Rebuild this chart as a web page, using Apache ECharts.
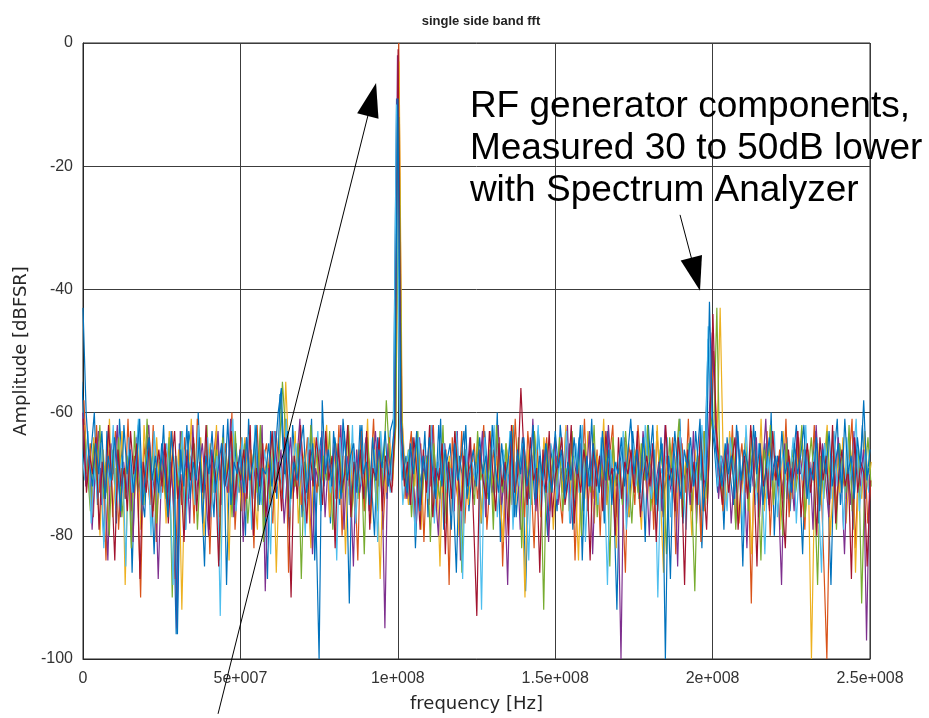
<!DOCTYPE html>
<html>
<head>
<meta charset="utf-8">
<title>single side band fft</title>
<script src="https://cdn.jsdelivr.net/npm/echarts@6/dist/echarts.min.js"></script>
<style>
  html, body { margin: 0; padding: 0; background: #fff; }
  #chart { width: 929px; height: 718px; }
</style>
</head>
<body>
<div id="chart"></div>
<script>
// fft bins, 1 MHz apart, 0 .. 250 MHz (251 bins per trace)
const binWidthHz = 1e6;
// each capture is slightly detuned from the others
const binOffsetHz = [-0.4e6, 0.3e6, 0.4e6, -0.1e6, 0.35e6, -0.4e6, 0.1e6, 0];

const xTickLabels = ['0', '5e+007', '1e+008', '1.5e+008', '2e+008', '2.5e+008'];
const yTicks = [-100, -80, -60, -40, -20, 0];

const traceColors = ['#0072BD', '#D95319', '#EDB120', '#7E2F8E', '#77AC30', '#4DBEEE', '#A2142F', '#0072BD'];

// amplitude [dBFSR] per bin, one array per captured trace (25 bins per row)
const trace1 = [
  -55, -64, -71, -66, -60, -75, -69, -81, -63, -72, -67, -78, -61, -70, -74, -65, -86, -68, -62, -73, -77, -64, -70, -83, -66,
  -71, -62, -76, -68, -73, -96, -65, -70, -79, -63, -67, -74, -60, -72, -85, -66, -69, -77, -64, -71, -62, -88, -68, -75, -65,
  -73, -67, -80, -61, -70, -64, -76, -69, -72, -87, -63, -68, -74, -57, -66, -71, -79, -62, -70, -65, -77, -68, -73, -61, -84,
  -69, -64, -72, -66, -78, -63, -70, -75, -61, -68, -91, -65, -73, -69, -62, -76, -67, -71, -80, -64, -70, -66, -74, -63, -61,
  -9, -62, -71, -67, -75, -64, -82, -69, -72, -63, -77, -66, -70, -74, -61, -79, -68, -65, -73, -86, -67, -71, -62, -76, -69,
  -72, -65, -78, -63, -70, -67, -74, -60, -81, -68, -66, -73, -62, -77, -70, -64, -89, -71, -67, -75, -63, -69, -72, -80, -66,
  -70, -76, -62, -68, -73, -65, -79, -71, -64, -84, -67, -72, -61, -75, -69, -66, -78, -63, -70, -74, -92, -68, -65, -71, -77,
  -63, -69, -74, -66, -81, -62, -71, -68, -76, -64, -73, -70, -87, -65, -72, -61, -78, -67, -70, -75, -63, -69, -82, -66, -48,
  -61, -66, -73, -67, -79, -64, -70, -75, -62, -68, -85, -66, -72, -69, -63, -77, -71, -65, -74, -60, -80, -67, -70, -73, -64,
  -76, -68, -62, -71, -83, -66, -74, -69, -63, -78, -70, -65, -72, -88, -67, -61, -75, -69, -73, -64, -79, -66, -71, -62, -74,
  -69
];
const trace2 = [
  -58, -70, -65, -77, -62, -73, -68, -84, -66, -71, -63, -79, -69, -74, -61, -76, -67, -72, -90, -65, -70, -75, -62, -81, -68,
  -73, -66, -70, -63, -87, -69, -75, -64, -72, -67, -78, -61, -70, -74, -66, -83, -68, -63, -76, -71, -65, -73, -60, -79, -69,
  -64, -76, -70, -67, -82, -62, -73, -68, -65, -71, -78, -63, -69, -74, -61, -86, -67, -72, -66, -75, -70, -64, -80, -68, -73,
  -66, -71, -63, -77, -69, -74, -62, -80, -67, -72, -65, -70, -84, -63, -76, -68, -71, -61, -75, -66, -79, -69, -64, -72, -60,
  0, -60, -74, -68, -63, -77, -70, -65, -81, -67, -72, -62, -76, -69, -73, -66, -88, -64, -71, -75, -63, -78, -68, -70, -65,
  -74, -69, -62, -79, -71, -66, -73, -64, -85, -70, -67, -75, -61, -72, -68, -77, -63, -70, -82, -66, -73, -69, -64, -76, -71,
  -67, -73, -78, -63, -70, -65, -84, -68, -72, -61, -76, -69, -74, -66, -80, -64, -71, -67, -62, -77, -70, -73, -86, -65, -69,
  -75, -62, -70, -68, -74, -66, -79, -63, -71, -77, -67, -72, -64, -83, -69, -65, -73, -61, -76, -70, -68, -81, -63, -74, -62,
  -50, -63, -69, -76, -66, -72, -62, -78, -70, -65, -73, -68, -91, -64, -71, -67, -75, -63, -80, -69, -72, -66, -74, -61, -77,
  -68, -73, -64, -70, -79, -66, -72, -62, -75, -69, -84, -100, -71, -63, -76, -65, -70, -74, -68, -61, -82, -69, -73, -66, -78,
  -71
];
const trace3 = [
  -62, -68, -75, -64, -71, -80, -66, -73, -61, -77, -69, -72, -63, -88, -67, -70, -74, -65, -79, -62, -71, -68, -76, -64, -73,
  -67, -78, -63, -70, -74, -66, -92, -69, -72, -61, -75, -68, -64, -80, -71, -65, -73, -62, -77, -70, -67, -84, -63, -72, -69,
  -76, -64, -71, -66, -73, -79, -62, -70, -68, -75, -65, -86, -69, -72, -55, -67, -74, -63, -78, -70, -66, -71, -82, -64, -69,
  -73, -68, -62, -77, -70, -65, -74, -67, -83, -63, -71, -76, -66, -69, -72, -61, -78, -64, -70, -87, -68, -73, -65, -71, -62,
  -3, -61, -70, -75, -66, -72, -64, -79, -68, -73, -62, -77, -69, -85, -65, -71, -67, -74, -63, -80, -70, -66, -75, -68, -72,
  -64, -78, -69, -71, -63, -76, -67, -73, -81, -65, -70, -62, -75, -68, -72, -90, -66, -74, -63, -69, -77, -64, -71, -67, -79,
  -70, -65, -73, -62, -76, -68, -71, -84, -66, -74, -63, -69, -78, -67, -72, -61, -75, -70, -64, -82, -68, -73, -65, -77, -71,
  -66, -72, -79, -64, -70, -67, -75, -62, -73, -86, -69, -65, -71, -77, -63, -74, -68, -70, -80, -66, -72, -64, -76, -69, -62,
  -62, -64, -43, -68, -75, -63, -70, -66, -78, -72, -64, -69, -83, -67, -73, -61, -76, -70, -65, -74, -68, -79, -63, -71, -67,
  -74, -66, -70, -63, -77, -69, -100, -72, -65, -75, -68, -62, -80, -71, -67, -73, -64, -78, -70, -66, -86, -69, -74, -63, -72,
  -68
];
const trace4 = [
  -60, -72, -66, -79, -69, -63, -75, -71, -84, -65, -70, -62, -77, -68, -73, -66, -81, -64, -71, -76, -67, -62, -74, -69, -87,
  -70, -65, -73, -68, -76, -95, -63, -71, -67, -78, -62, -74, -69, -65, -72, -80, -66, -70, -63, -75, -68, -73, -61, -77, -71,
  -66, -81, -64, -70, -74, -67, -72, -62, -89, -69, -75, -63, -71, -66, -78, -70, -64, -73, -68, -61, -76, -72, -65, -83, -69,
  -72, -63, -77, -68, -70, -65, -74, -62, -79, -67, -71, -85, -66, -73, -69, -64, -76, -70, -63, -72, -68, -95, -65, -71, -62,
  -2, -63, -69, -74, -66, -71, -78, -64, -70, -67, -75, -62, -73, -80, -68, -65, -72, -69, -76, -63, -84, -67, -71, -64, -74,
  -68, -70, -63, -77, -66, -73, -69, -62, -75, -71, -88, -65, -72, -67, -79, -64, -70, -74, -61, -76, -68, -72, -66, -81, -70,
  -64, -75, -69, -72, -62, -78, -67, -71, -65, -74, -70, -63, -83, -68, -73, -66, -76, -62, -70, -69, -72, -100, -64, -77, -67,
  -71, -66, -74, -63, -69, -80, -65, -72, -68, -76, -62, -70, -73, -67, -85, -64, -71, -69, -75, -63, -78, -66, -70, -72, -61,
  -47, -62, -74, -67, -71, -65, -78, -70, -63, -73, -68, -82, -66, -72, -64, -77, -69, -61, -75, -70, -67, -73, -88, -65, -71,
  -69, -76, -63, -70, -66, -74, -68, -79, -62, -72, -65, -71, -77, -67, -73, -64, -70, -83, -68, -75, -63, -69, -72, -66, -97,
  -70
];
const trace5 = [
  -63, -69, -76, -65, -71, -62, -74, -68, -80, -66, -72, -64, -77, -70, -67, -82, -63, -73, -69, -75, -61, -71, -66, -78, -68,
  -70, -74, -64, -90, -67, -72, -63, -76, -69, -71, -65, -79, -68, -73, -62, -75, -70, -66, -84, -64, -71, -67, -77, -63, -72,
  -69, -65, -78, -70, -66, -73, -62, -81, -68, -74, -64, -71, -67, -55, -63, -76, -70, -72, -65, -87, -68, -74, -62, -70, -66,
  -75, -67, -71, -63, -79, -69, -65, -73, -70, -62, -77, -68, -74, -66, -83, -64, -71, -69, -76, -63, -72, -58, -67, -70, -62,
  -12, -64, -72, -66, -77, -69, -63, -75, -70, -67, -81, -65, -71, -74, -62, -78, -68, -73, -64, -70, -86, -66, -72, -69, -75,
  -63, -71, -68, -74, -66, -79, -62, -70, -73, -65, -77, -69, -72, -64, -82, -67, -70, -75, -63, -71, -68, -92, -65, -73, -66,
  -72, -64, -76, -69, -71, -63, -74, -67, -80, -65, -70, -73, -62, -77, -68, -71, -66, -85, -64, -72, -69, -75, -63, -70, -78,
  -67, -73, -65, -71, -62, -76, -69, -74, -66, -70, -83, -64, -72, -68, -61, -77, -70, -65, -73, -89, -67, -71, -63, -75, -61,
  -63, -43, -70, -74, -67, -72, -64, -79, -68, -71, -65, -76, -63, -73, -69, -84, -66, -70, -62, -75, -68, -72, -80, -65, -71,
  -66, -73, -69, -62, -77, -70, -64, -72, -88, -67, -74, -63, -71, -68, -79, -65, -70, -73, -62, -76, -69, -66, -91, -71, -64,
  -72
];
const trace6 = [
  -66, -71, -63, -78, -69, -74, -65, -82, -68, -72, -62, -76, -70, -67, -85, -64, -73, -69, -61, -77, -71, -66, -80, -63, -70,
  -74, -68, -65, -72, -88, -67, -71, -63, -79, -70, -66, -75, -62, -73, -69, -64, -77, -71, -67, -93, -65, -72, -68, -61, -76,
  -70, -64, -73, -67, -79, -62, -71, -75, -66, -70, -83, -63, -72, -68, -74, -61, -77, -69, -65, -72, -67, -80, -64, -71, -69,
  -63, -76, -70, -66, -73, -68, -84, -64, -71, -67, -75, -62, -78, -69, -72, -65, -70, -74, -66, -81, -63, -71, -68, -73, -64,
  -10, -63, -75, -69, -66, -72, -80, -64, -70, -67, -74, -62, -78, -68, -71, -65, -73, -69, -76, -63, -70, -87, -66, -72, -68,
  -71, -67, -92, -64, -73, -69, -62, -77, -70, -66, -74, -63, -79, -68, -72, -65, -71, -84, -67, -70, -62, -76, -69, -73, -65,
  -68, -74, -66, -71, -63, -78, -70, -65, -73, -62, -81, -69, -72, -67, -75, -64, -70, -88, -66, -71, -68, -74, -63, -79, -70,
  -65, -72, -68, -76, -62, -70, -74, -66, -90, -69, -71, -64, -77, -67, -73, -63, -70, -79, -65, -72, -68, -75, -62, -71, -46,
  -60, -63, -72, -67, -70, -76, -64, -69, -73, -66, -80, -62, -71, -68, -75, -65, -70, -83, -67, -72, -63, -77, -69, -66, -74,
  -70, -64, -78, -68, -71, -62, -75, -69, -66, -73, -86, -65, -70, -74, -63, -72, -67, -79, -64, -71, -68, -61, -76, -70, -66,
  -73
];
const trace7 = [
  -61, -73, -67, -70, -64, -79, -68, -74, -62, -71, -84, -66, -72, -69, -76, -63, -70, -65, -87, -68, -73, -64, -77, -70, -66,
  -72, -65, -78, -69, -63, -74, -70, -81, -66, -71, -64, -76, -68, -73, -62, -79, -67, -70, -85, -65, -72, -69, -63, -75, -68,
  -71, -66, -74, -62, -80, -69, -72, -65, -77, -70, -63, -73, -68, -76, -64, -71, -90, -67, -74, -62, -70, -78, -66, -72, -64,
  -69, -75, -63, -71, -67, -82, -65, -73, -70, -62, -77, -68, -72, -66, -74, -63, -79, -69, -71, -64, -76, -67, -70, -73, -62,
  -1, -61, -72, -68, -75, -64, -70, -79, -66, -73, -62, -77, -69, -71, -65, -83, -68, -74, -63, -70, -76, -67, -72, -64, -78,
  -93, -66, -71, -74, -63, -69, -76, -65, -72, -68, -80, -62, -73, -70, -56, -67, -75, -64, -71, -69, -86, -66, -73, -63, -77,
  -70, -68, -64, -75, -71, -62, -78, -69, -73, -66, -70, -84, -65, -72, -67, -76, -63, -71, -69, -80, -64, -74, -68, -70, -66,
  -73, -63, -77, -70, -67, -72, -65, -81, -68, -74, -62, -71, -69, -76, -64, -70, -88, -66, -73, -68, -75, -63, -71, -79, -63,
  -44, -62, -70, -75, -66, -73, -68, -64, -79, -71, -67, -74, -62, -70, -85, -65, -72, -69, -76, -63, -71, -67, -74, -82, -66,
  -72, -69, -63, -77, -70, -65, -73, -68, -80, -64, -71, -67, -75, -62, -78, -70, -66, -72, -69, -87, -64, -73, -68, -70, -85,
  -71
];
const trace8 = [
  -43, -60, -68, -72, -65, -70, -63, -74, -67, -71, -64, -69, -76, -62, -70, -66, -73, -68, -61, -75, -69, -64, -71, -67, -73,
  -65, -70, -77, -63, -69, -96, -66, -72, -62, -74, -68, -71, -64, -78, -67, -70, -63, -73, -69, -65, -72, -61, -75, -68, -70,
  -66, -73, -64, -71, -68, -62, -75, -69, -70, -65, -72, -67, -60, -56, -70, -63, -74, -68, -71, -66, -62, -73, -69, -65, -77,
  -100, -58, -70, -66, -72, -64, -69, -74, -63, -71, -67, -65, -73, -62, -70, -68, -75, -64, -71, -66, -69, -63, -72, -67, -62,
  -9, -61, -68, -73, -65, -70, -63, -76, -67, -71, -64, -69, -74, -62, -72, -66, -70, -79, -65, -71, -68, -63, -74, -69, -66,
  -72, -64, -70, -67, -75, -62, -69, -73, -65, -71, -68, -63, -77, -66, -70, -64, -72, -69, -62, -74, -67, -71, -65, -70, -73,
  -63, -69, -66, -74, -68, -71, -64, -70, -62, -76, -67, -72, -65, -69, -73, -63, -71, -66, -75, -68, -70, -64, -72, -67, -61,
  -70, -66, -73, -64, -71, -68, -62, -75, -69, -65, -100, -67, -72, -63, -70, -74, -66, -69, -64, -72, -68, -61, -76, -70, -42,
  -62, -66, -69, -72, -65, -70, -67, -74, -63, -71, -66, -68, -73, -62, -70, -65, -75, -69, -64, -71, -67, -72, -63, -70, -68,
  -73, -65, -70, -67, -62, -74, -69, -71, -64, -76, -66, -70, -63, -72, -68, -65, -73, -61, -70, -67, -74, -64, -69, -58, -71,
  -66
];

const traces = [trace1, trace2, trace3, trace4, trace5, trace6, trace7, trace8];

// annotation text and arrows, in data coordinates [Hz, dB]
const noteText = 'RF generator components,\nMeasured 30 to 50dB lower\nwith Spectrum Analyzer';
const noteAnchor = [1.229e8, -6.9];
const arrows = [
  { from: [4.29e7, -108.9], to: [9.31e7, -6.5] },
  { from: [1.8965e8, -27.9], to: [1.960e8, -40.2] }
];

const chart = echarts.init(document.getElementById('chart'), null, { renderer: 'canvas' });

const series = traces.map(function (t, k) {
  return {
    type: 'line',
    data: t.map(function (v, i) { return [i * binWidthHz + binOffsetHz[k], v]; }),
    showSymbol: false,
    symbol: 'none',
    lineStyle: { width: 1.2, color: traceColors[k] },
    itemStyle: { color: traceColors[k] },
    silent: true,
    clip: true,
    z: 2 + k
  };
});

const option = {
  animation: false,
  backgroundColor: '#fff',
  title: {
    text: 'single side band fft',
    left: 476,
    textAlign: 'center',
    top: 10,
    textStyle: { fontFamily: 'Liberation Sans', fontWeight: 'bold', fontSize: 13, color: '#222' }
  },
  grid: {
    left: 83, right: 59, top: 43, bottom: 56,
    show: true, borderColor: '#262626', borderWidth: 1, backgroundColor: 'transparent'
  },
  xAxis: {
    type: 'value',
    min: 0, max: 2.5e8, interval: 5e7,
    name: 'frequency [Hz]',
    nameLocation: 'middle',
    nameGap: 36,
    nameTextStyle: { fontFamily: 'DejaVu Sans', fontSize: 18, color: '#262626' },
    axisLine: { onZero: false, lineStyle: { color: '#262626', width: 1 } },
    axisTick: { show: false },
    axisLabel: {
      margin: 12,
      fontFamily: 'Liberation Sans', fontSize: 16, color: '#333',
      showMaxLabel: true,
      formatter: function (v) { return xTickLabels[Math.round(v / 5e7)]; }
    },
    splitLine: { show: true, lineStyle: { color: '#3c3c3c', width: 1 } }
  },
  yAxis: {
    type: 'value',
    min: yTicks[0], max: yTicks[yTicks.length - 1], interval: 20,
    name: 'Amplitude [dBFSR]',
    nameLocation: 'middle',
    nameGap: 46,
    nameTextStyle: { fontFamily: 'DejaVu Sans', fontSize: 18, color: '#262626' },
    axisLine: { show: true, onZero: false, lineStyle: { color: '#262626', width: 1 } },
    axisTick: { show: false },
    axisLabel: { margin: 10, fontFamily: 'Liberation Sans', fontSize: 16, color: '#333' },
    splitLine: { show: true, lineStyle: { color: '#3c3c3c', width: 1 } }
  },
  series: series
};

chart.setOption(option);

// arrows + note placed through the axes
function arrowShapes(a) {
  const p0 = chart.convertToPixel({ gridIndex: 0 }, a.from);
  const p1 = chart.convertToPixel({ gridIndex: 0 }, a.to);
  const dx = p1[0] - p0[0], dy = p1[1] - p0[1];
  const len = Math.sqrt(dx * dx + dy * dy);
  const ux = dx / len, uy = dy / len;
  const headLen = 34, headHalf = 11;
  const bx = p1[0] - ux * headLen, by = p1[1] - uy * headLen;
  return [
    {
      type: 'line',
      shape: { x1: p0[0], y1: p0[1], x2: bx + ux * 4, y2: by + uy * 4 },
      style: { stroke: '#000', lineWidth: 1 },
      z: 100
    },
    {
      type: 'polygon',
      shape: { points: [p1, [bx - uy * headHalf, by + ux * headHalf], [bx + uy * headHalf, by - ux * headHalf]] },
      style: { fill: '#000' },
      z: 100
    }
  ];
}

const notePos = chart.convertToPixel({ gridIndex: 0 }, noteAnchor);
let graphics = [{
  type: 'text',
  x: notePos[0], y: notePos[1],
  style: {
    text: noteText,
    font: '37px "Liberation Sans"',
    fill: '#000',
    lineHeight: 42,
    textAlign: 'left',
    textVerticalAlign: 'top'
  },
  z: 100
}];
arrows.forEach(function (a) { graphics = graphics.concat(arrowShapes(a)); });

chart.setOption({ graphic: graphics });
</script>
</body>
</html>
